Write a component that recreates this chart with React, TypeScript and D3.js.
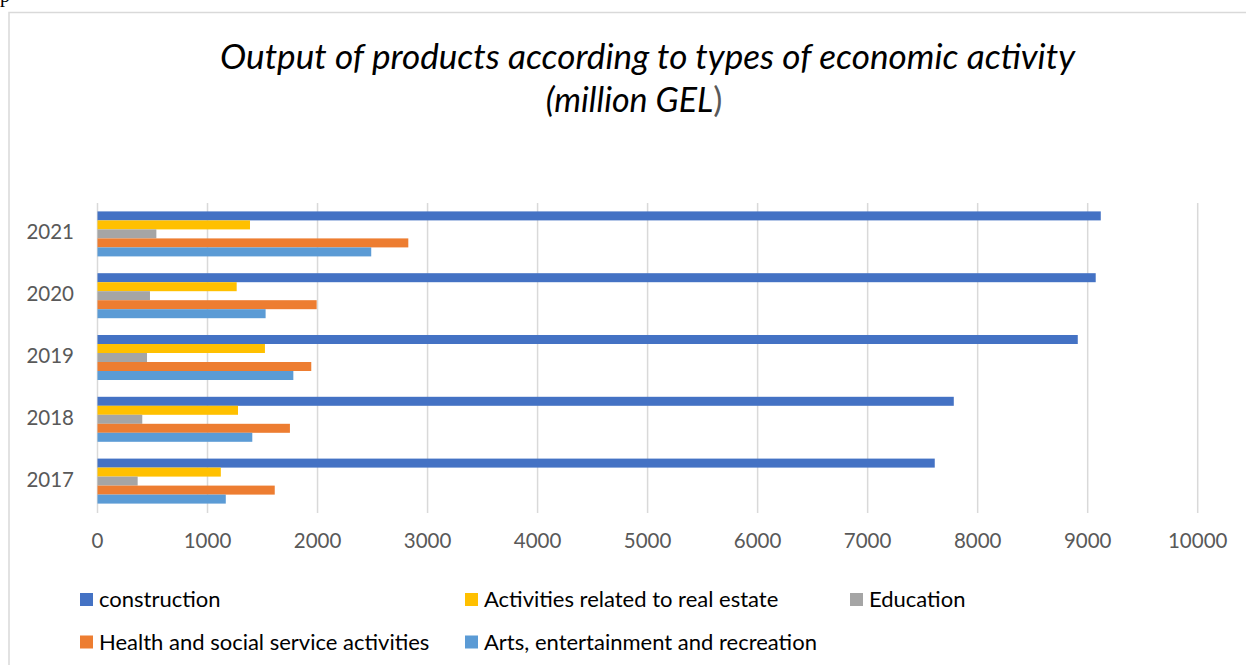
import React from 'react';
import * as d3 from 'd3';

const years = ['2017', '2018', '2019', '2020', '2021'];
const seriesNames = [
  'construction',
  'Activities related to real estate',
  'Education',
  'Health and social service activities',
  'Arts, entertainment and recreation',
];
const construction = [7610, 7783, 8910, 9073, 9119];
const realEstate = [1121, 1277, 1522, 1265, 1386];
const education = [365, 407, 450, 477, 535];
const health = [1611, 1749, 1943, 1992, 2825];
const arts = [1166, 1407, 1780, 1528, 2488];
const seriesColors = ['#4472C4', '#FFC000', '#A5A5A5', '#ED7D31', '#5B9BD5'];
const xTicks = [0, 1000, 2000, 3000, 4000, 5000, 6000, 7000, 8000, 9000, 10000];

const seriesValues = [construction, realEstate, education, health, arts];

export default function App() {
  const W = 1246;
  const H = 665;
  const font = 'Lato, "Open Sans", sans-serif';
  const x = d3.scaleLinear().domain([0, 10000]).range([97.5, 1197.7]);
  const y0 = d3.scaleBand().domain([...years].reverse()).range([203, 512]);
  const y1 = d3
    .scaleBand()
    .domain(seriesNames)
    .range([0, y0.bandwidth()])
    .paddingInner(0)
    .paddingOuter(0.933);

  const legendPos = [
    { x: 80, y: 599.5 },
    { x: 465, y: 599.5 },
    { x: 850, y: 599.5 },
    { x: 80, y: 642 },
    { x: 465, y: 642 },
  ];

  return (
    <svg
      width={W}
      height={H}
      style={{ position: 'absolute', left: 0, top: 0, background: '#fff' }}
    >
      <rect x={0} y={0} width={W} height={H} fill="#fff" />
      <text x={0} y={2} fontFamily='"Liberation Serif", serif' fontSize={20} fill="#000">
        p
      </text>
      <rect
        x={9}
        y={12.5}
        width={W + 50}
        height={H + 50}
        fill="#fff"
        stroke="#d9d9d9"
        strokeWidth={1.5}
      />
      {/* Title */}
      <text
        x={647.5}
        y={69}
        textAnchor="middle"
        fontFamily={font}
        fontStyle="italic"
        fontSize={34}
        fill="#000"
        textLength={855}
        lengthAdjust="spacingAndGlyphs"
      >
        Output of products according to types of economic activity
      </text>
      <text x={634} y={112} textAnchor="middle" fontFamily={font} fontSize={34} fill="#000">
        <tspan fontStyle="italic">(million GEL</tspan>
        <tspan fill="#595959">)</tspan>
      </text>
      {/* Gridlines */}
      {xTicks.map((t) => (
        <line
          key={'g' + t}
          x1={x(t)}
          x2={x(t)}
          y1={203}
          y2={513}
          stroke="#d9d9d9"
          strokeWidth={1.5}
        />
      ))}
      {/* Bars */}
      {years.map((yr, i) => (
        <g key={yr} transform={`translate(0,${y0(yr)})`}>
          {seriesNames.map((s, j) => (
            <rect
              key={s}
              x={x(0)}
              y={y1(s)}
              width={x(seriesValues[j][i]) - x(0)}
              height={y1.bandwidth()}
              fill={seriesColors[j]}
            />
          ))}
        </g>
      ))}
      {/* Y labels */}
      {years.map((yr) => (
        <text
          key={'yl' + yr}
          x={74}
          y={(y0(yr) as number) + y0.bandwidth() / 2 + 5.5}
          textAnchor="end"
          fontFamily={font}
          fontSize={20.5}
          fill="#595959"
        >
          {yr}
        </text>
      ))}
      {/* X tick labels */}
      {xTicks.map((t) => (
        <text
          key={'xl' + t}
          x={x(t)}
          y={548}
          textAnchor="middle"
          fontFamily={font}
          fontSize={20.5}
          fill="#595959"
        >
          {t}
        </text>
      ))}
      {/* Legend */}
      {seriesNames.map((s, j) => (
        <g key={'lg' + s}>
          <rect
            x={legendPos[j].x}
            y={legendPos[j].y - 6.5}
            width={13}
            height={13}
            fill={seriesColors[j]}
          />
          <text
            x={legendPos[j].x + 19}
            y={legendPos[j].y + 7.5}
            fontFamily={font}
            fontSize={22}
            fill="#000"
          >
            {s}
          </text>
        </g>
      ))}
    </svg>
  );
}
